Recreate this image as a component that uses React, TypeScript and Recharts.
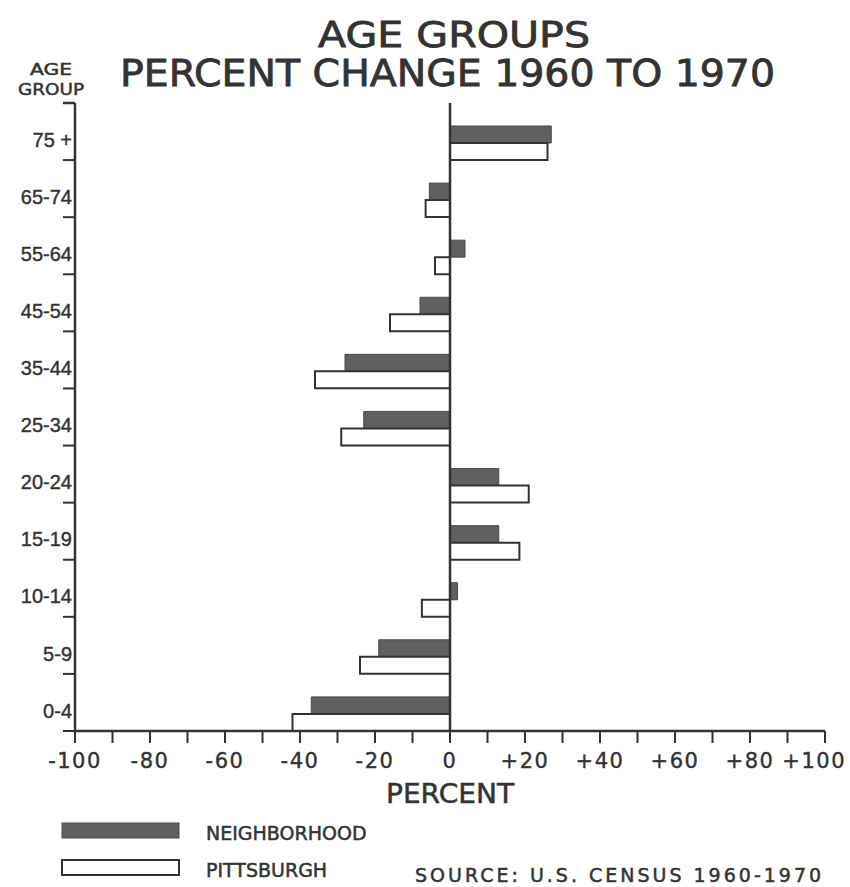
import React from 'react';
import { BarChart, Bar, XAxis, YAxis, ReferenceLine } from 'recharts';

const AGE_GROUPS = ['75 +', '65-74', '55-64', '45-54', '35-44', '25-34', '20-24', '15-19', '10-14', '5-9', '0-4'];
const NEIGHBORHOOD = [27, -5.5, 4, -8, -28, -23, 13, 13, 2, -19, -37];
const PITTSBURGH = [26, -6.5, -4, -16, -36, -29, 21, 18.5, -7.5, -24, -42];
const X_TICKS = [-100, -90, -80, -70, -60, -50, -40, -30, -20, -10, 0, 10, 20, 30, 40, 50, 60, 70, 80, 90, 100];
const SERIES_NAMES = ['NEIGHBORHOOD', 'PITTSBURGH'];
const TITLE_1 = 'AGE  GROUPS';
const TITLE_2 = 'PERCENT CHANGE 1960 TO 1970';
const X_TITLE = 'PERCENT';
const SOURCE = 'SOURCE:  U.S. CENSUS  1960-1970';

const data = AGE_GROUPS.map((g, i) => ({ group: g, neighborhood: NEIGHBORHOOD[i], pittsburgh: PITTSBURGH[i] }));

const INK = '#333333';
const GRAY = '#606060';
const FONT = '"DejaVu Sans", "Liberation Sans", sans-serif';
const NUM_FONT = '"Liberation Sans", "DejaVu Sans", sans-serif';
const MARGIN = { top: 103, right: 25, bottom: 96, left: 0 };
const Y_TICK_LEN = 12;
const Y_TICK_MARGIN = 3;

const fmtX = (v: number) => {
  if (v % 20 !== 0) return '';
  if (v === 0) return '0';
  return v > 0 ? `+${v}` : `-${Math.abs(v)}`;
};

// Label at band centre; boundary tick marks derived from the band size of the category scale.
const CatTick = (props: any) => {
  const { payload } = props;
  const x = Number(props.x);
  const y = Number(props.y);
  const idx = AGE_GROUPS.indexOf(payload.value);
  const half = idx >= 0 ? (y - MARGIN.top) / (2 * idx + 1) : 0;
  const axisX = x + Y_TICK_MARGIN;
  return (
    <g>
      {idx === 0 && half > 0 && (
        <line x1={axisX - Y_TICK_LEN} x2={axisX} y1={y - half} y2={y - half} stroke={INK} strokeWidth={2.5} />
      )}
      {half > 0 && (
        <line x1={axisX - Y_TICK_LEN} x2={axisX} y1={y + half} y2={y + half} stroke={INK} strokeWidth={2} />
      )}
      <text x={x} y={y + 8} dy="0.36em" textAnchor="end" fill={INK} stroke={INK} strokeWidth={0.4} fontSize={20} fontFamily={NUM_FONT}>
        {payload.value}
      </text>
    </g>
  );
};

const XTick = (props: any) => {
  const { x, y, payload } = props;
  const label = fmtX(payload.value);
  if (!label) return <g />;
  const last = payload.value === X_TICKS[X_TICKS.length - 1];
  return (
    <text
      x={last ? Number(x) + 21 : x}
      y={y}
      dy="0.75em"
      textAnchor={last ? 'end' : 'middle'}
      fill={INK}
      stroke={INK}
      strokeWidth={0.4}
      fontSize={21}
      letterSpacing={1.5}
      fontFamily={FONT}
    >
      {label}
    </text>
  );
};

export default function App() {
  return (
    <div style={{ position: 'absolute', left: 0, top: 0, width: 850, height: 887, background: '#fff' }}>
      <div style={{ position: 'absolute', left: 0, top: 0 }}>
        <BarChart
          width={850}
          height={887}
          data={data}
          layout="vertical"
          margin={MARGIN}
          barGap={0}
          barCategoryGap={0}
        >
          <XAxis
            xAxisId="bottom"
            type="number"
            domain={[-100, 100]}
            ticks={X_TICKS}
            interval={0}
            tickSize={12}
            tickMargin={9}
            height={60}
            axisLine={{ stroke: INK, strokeWidth: 2.5 }}
            tickLine={{ stroke: INK, strokeWidth: 2 }}
            tick={<XTick />}
          />
          <XAxis
            xAxisId="top"
            orientation="top"
            type="number"
            domain={[-100, 100]}
            height={0}
            tick={false}
            tickLine={false}
            axisLine={{ stroke: INK, strokeWidth: 2.5 }}
          />
          <YAxis
            yAxisId="cat"
            type="category"
            dataKey="group"
            width={75}
            interval={0}
            tickLine={false}
            tickSize={0}
            tickMargin={Y_TICK_MARGIN}
            axisLine={{ stroke: INK, strokeWidth: 2.5 }}
            tick={<CatTick />}
          />
          <YAxis
            yAxisId="right"
            orientation="right"
            type="number"
            domain={[0, 11]}
            allowDataOverflow
            width={0}
            tick={false}
            tickLine={false}
            axisLine={{ stroke: INK, strokeWidth: 2.5 }}
          />
          <Bar xAxisId="bottom" yAxisId="cat" dataKey="ghost" barSize={23} fill="none" stroke="none" legendType="none" isAnimationActive={false} />
          <Bar xAxisId="bottom" yAxisId="cat" dataKey="neighborhood" name={SERIES_NAMES[0]} barSize={17} fill={GRAY} stroke="#4a4a4a" strokeWidth={1} isAnimationActive={false} />
          <Bar xAxisId="bottom" yAxisId="cat" dataKey="pittsburgh" name={SERIES_NAMES[1]} barSize={17} fill="#ffffff" stroke={INK} strokeWidth={2} isAnimationActive={false} />
          <ReferenceLine xAxisId="bottom" yAxisId="cat" x={0} stroke={INK} strokeWidth={2.5} />
        </BarChart>
      </div>
      <svg width={850} height={887} style={{ position: 'absolute', left: 0, top: 0, pointerEvents: 'none' }}>
        <g fill={INK} stroke={INK} fontFamily={FONT}>
          <text x={454} y={47} textAnchor="middle" fontSize={35} strokeWidth={0.8} textLength={272} lengthAdjust="spacingAndGlyphs">{TITLE_1}</text>
          <text x={120} y={86} fontSize={37} strokeWidth={0.8} textLength={655} lengthAdjust="spacingAndGlyphs">{TITLE_2}</text>
          <text x={51} y={75} textAnchor="middle" fontSize={16} strokeWidth={0.5} textLength={42} lengthAdjust="spacingAndGlyphs">AGE</text>
          <text x={51} y={95} textAnchor="middle" fontSize={16} strokeWidth={0.5} textLength={66} lengthAdjust="spacingAndGlyphs">GROUP</text>
          <text x={450} y={803} textAnchor="middle" fontSize={27} strokeWidth={0.5} textLength={128} lengthAdjust="spacingAndGlyphs">{X_TITLE}</text>
          <rect x={62} y={823} width={117} height={15} fill={GRAY} stroke="#4a4a4a" strokeWidth={1} />
          <text x={206} y={840} fontSize={19} strokeWidth={0.5}>{SERIES_NAMES[0]}</text>
          <rect x={62} y={860} width={117} height={15} fill="#ffffff" stroke={INK} strokeWidth={2} />
          <text x={206} y={877} fontSize={19} strokeWidth={0.5}>{SERIES_NAMES[1]}</text>
          <text x={415} y={882} fontSize={19} strokeWidth={0.5} letterSpacing={3}>{SOURCE}</text>
        </g>
      </svg>
    </div>
  );
}
